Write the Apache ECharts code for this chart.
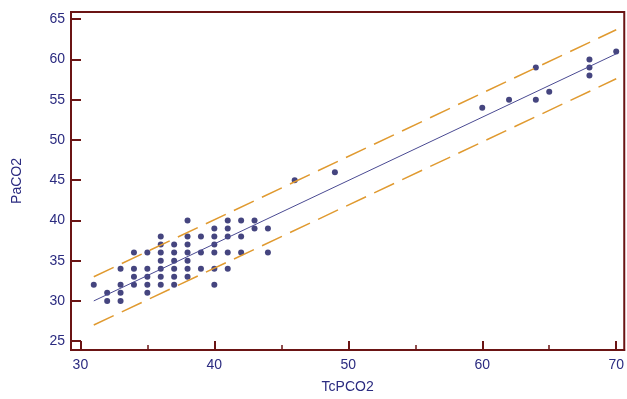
<!DOCTYPE html>
<html>
<head>
<meta charset="utf-8">
<script src="https://cdn.jsdelivr.net/npm/echarts@6/dist/echarts.min.js"></script>
<style>
  html, body { margin: 0; padding: 0; background: #fff; }
  #chart { width: 627px; height: 399px; }
</style>
</head>
<body>
<div id="chart"></div>
<script>
// TcPCO2 vs PaCO2 measurements
const points = [
  [31, 32],
  [32, 31], [32, 30],
  [33, 34], [33, 32], [33, 31], [33, 30],
  [34, 36], [34, 34], [34, 33], [34, 32],
  [35, 36], [35, 34], [35, 33], [35, 32], [35, 31],
  [36, 38], [36, 37], [36, 36], [36, 35], [36, 34], [36, 33], [36, 32],
  [37, 37], [37, 36], [37, 35], [37, 34], [37, 33], [37, 32],
  [38, 40], [38, 38], [38, 37], [38, 36], [38, 35], [38, 34], [38, 33],
  [39, 38], [39, 36], [39, 34],
  [40, 39], [40, 38], [40, 37], [40, 36], [40, 34], [40, 32],
  [41, 40], [41, 39], [41, 38], [41, 36], [41, 34],
  [42, 40], [42, 38], [42, 36],
  [43, 40], [43, 39],
  [44, 39], [44, 36],
  [46, 45], [49, 46],
  [60, 54], [62, 55], [64, 59], [64, 55], [65, 56],
  [68, 60], [68, 59], [68, 58], [70, 61]
];

// regression line and prediction band ends
const regLine = [[31, 30.0], [70, 60.7]];
const upperBand = [[31, 33.0], [70, 63.7]];
const lowerBand = [[31, 27.0], [70, 57.6]];

const xMajorTicks = [30, 40, 50, 60, 70];
const xMinorTicks = [35, 45, 55, 65];
const yTicks = [25, 30, 35, 40, 45, 50, 55, 60, 65];

const axisColor = '#6b1414';
const textColor = '#2b2b80';

const chart = echarts.init(document.getElementById('chart'));

chart.setOption({
  animation: false,
  grid: {
    left: 71,
    right: 2,
    top: 12,
    bottom: 47,
    show: true,
    borderColor: axisColor,
    borderWidth: 2
  },
  xAxis: [
    {
      type: 'value',
      min: 29.3,
      max: 70.6,
      name: 'TcPCO2',
      nameLocation: 'middle',
      nameGap: 30,
      nameTextStyle: { color: textColor, fontSize: 14, fontFamily: 'Liberation Sans' },
      axisLine: { lineStyle: { color: axisColor, width: 2 } },
      axisTick: {
        inside: true,
        length: 9,
        customValues: xMajorTicks,
        lineStyle: { color: axisColor, width: 2 }
      },
      axisLabel: {
        customValues: xMajorTicks,
        color: textColor,
        fontSize: 14,
        fontFamily: 'Liberation Sans',
        margin: 8
      },
      splitLine: { show: false }
    },
    {
      type: 'value',
      position: 'bottom',
      min: 29.3,
      max: 70.6,
      axisLine: { show: false },
      axisTick: {
        inside: true,
        length: 5,
        customValues: xMinorTicks,
        lineStyle: { color: axisColor, width: 1.5 }
      },
      axisLabel: { show: false },
      splitLine: { show: false }
    }
  ],
  yAxis: {
    type: 'value',
    min: 23.9,
    max: 65.9,
    name: 'PaCO2',
    nameLocation: 'middle',
    nameGap: 47,
    nameTextStyle: { color: textColor, fontSize: 14, fontFamily: 'Liberation Sans' },
    axisLine: { lineStyle: { color: axisColor, width: 2 } },
    axisTick: {
      inside: true,
      length: 10,
      customValues: yTicks,
      lineStyle: { color: axisColor, width: 2 }
    },
    axisLabel: {
      customValues: yTicks,
      color: textColor,
      fontSize: 14,
      fontFamily: 'Liberation Sans',
      margin: 6
    },
    splitLine: { show: false }
  },
  series: [
    {
      type: 'line',
      data: upperBand,
      showSymbol: false,
      silent: true,
      lineStyle: { color: '#e09a30', width: 1.5, type: [22, 9] }
    },
    {
      type: 'line',
      data: lowerBand,
      showSymbol: false,
      silent: true,
      lineStyle: { color: '#e09a30', width: 1.5, type: [22, 9] }
    },
    {
      type: 'line',
      data: regLine,
      showSymbol: false,
      silent: true,
      lineStyle: { color: '#4a4a92', width: 1 }
    },
    {
      type: 'scatter',
      data: points,
      symbolSize: 6,
      itemStyle: { color: '#16165f' }
    }
  ]
});

window.addEventListener('resize', () => chart.resize());
</script>
</body>
</html>
